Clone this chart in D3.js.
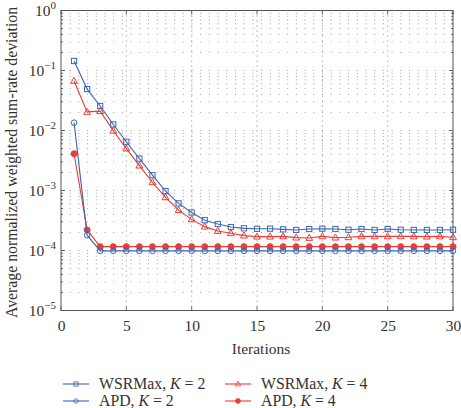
<!DOCTYPE html>
<html>
<head>
<meta charset="utf-8">
<script src="https://cdn.jsdelivr.net/npm/d3@7"></script>
<style>
body { margin: 0; background: #fff; }
text { font-family: "Liberation Serif", "DejaVu Serif", serif; fill: #333; }
</style>
</head>
<body>
<div id="chart"></div>
<script>
// iterations
var iterations = d3.range(1, 31);

// series values
var wsrK2 = [0.144, 0.049, 0.0256, 0.0126, 0.0065, 0.0034, 0.0018, 0.00098, 0.00061, 0.00043,
    0.00032, 0.000276, 0.000246, 0.000234, 0.00023, 0.000231, 0.000225, 0.00022, 0.000228, 0.000231,
    0.000228, 0.000222, 0.000228, 0.00022, 0.000228, 0.000222, 0.00022, 0.00022, 0.00022, 0.000222];
var wsrK4 = [0.067, 0.0204, 0.021, 0.0099, 0.005, 0.0026, 0.00137, 0.00077, 0.00047, 0.00033,
    0.00025, 0.000211, 0.000194, 0.000177, 0.00017, 0.00017, 0.000172, 0.000164, 0.000162, 0.000172,
    0.000164, 0.000166, 0.000172, 0.000172, 0.000172, 0.000172, 0.000172, 0.00017, 0.000172, 0.000166];
var apdK2 = [0.0135, 0.00018, 0.0000985, 0.0000985, 0.0000985, 0.0000985, 0.0000985, 0.0000985, 0.0000985, 0.0000985,
    0.0000985, 0.0000985, 0.0000985, 0.0000985, 0.0000985, 0.0000985, 0.0000985, 0.0000985, 0.0000985, 0.0000985,
    0.0000985, 0.0000985, 0.0000985, 0.0000985, 0.0000985, 0.0000985, 0.0000985, 0.0000985, 0.0000985, 0.0000985];
var apdK4 = [0.0041, 0.00022, 0.000116, 0.000116, 0.000116, 0.000116, 0.000116, 0.000116, 0.000116, 0.000116,
    0.000116, 0.000116, 0.000116, 0.000116, 0.000116, 0.000116, 0.000116, 0.000116, 0.000116, 0.000116,
    0.000116, 0.000116, 0.000116, 0.000116, 0.000116, 0.000116, 0.000116, 0.000116, 0.000116, 0.000116];

var xTicks = [0, 5, 10, 15, 20, 25, 30];
var yExps = [0, -1, -2, -3, -4, -5];

var blue = "#3b65b4", red = "#ee3b36";

var series = [
    {name: "WSRMax, ", k: "2", values: wsrK2, color: blue, marker: "square"},
    {name: "APD, ", k: "2", values: apdK2, color: blue, marker: "circle"},
    {name: "WSRMax, ", k: "4", values: wsrK4, color: red, marker: "triangle"},
    {name: "APD, ", k: "4", values: apdK4, color: red, marker: "dot"}
];

var width = 461, height = 408;
var plotLeft = 61, plotRight = 453, plotTop = 10.5, plotBottom = 310.5;

var svg = d3.select("#chart").append("svg")
    .attr("width", width)
    .attr("height", height);

var xScale = d3.scaleLinear().domain([0, 30]).range([plotLeft, plotRight]);
var yScale = d3.scaleLog().domain([1e-5, 1]).range([plotBottom, plotTop]);

// grid: horizontal dotted at every log tick, vertical dotted at x majors
var minorVals = [];
for (var e = -5; e < 0; e++) {
    for (var m = 1; m < 10; m++) minorVals.push(m * Math.pow(10, e));
}
minorVals.push(1);

svg.append("g").selectAll("line")
    .data(minorVals.filter(function(v) { return v > 1.01e-5 && v < 0.99; }))
    .enter().append("line")
    .attr("x1", plotLeft).attr("x2", plotRight)
    .attr("y1", function(d) { return yScale(d); })
    .attr("y2", function(d) { return yScale(d); })
    .attr("stroke", "#888")
    .attr("stroke-width", 0.8)
    .attr("stroke-dasharray", "1,7.7");

svg.append("g").selectAll("line")
    .data(xTicks.slice(1, -1))
    .enter().append("line")
    .attr("x1", function(d) { return xScale(d); })
    .attr("x2", function(d) { return xScale(d); })
    .attr("y1", plotTop).attr("y2", plotBottom)
    .attr("stroke", "#666")
    .attr("stroke-width", 0.8)
    .attr("stroke-dasharray", "1,4");

// axes
var xAxis = d3.axisBottom(xScale).tickValues(xTicks).tickSize(0).tickPadding(9).tickFormat(d3.format("d"));
var gx = svg.append("g")
    .attr("transform", "translate(0," + plotBottom + ")")
    .call(xAxis);
gx.select(".domain").remove();
gx.selectAll("text").style("font-size", "15.5px").attr("font-family", null);

// tick marks on inside of box
var tickG = svg.append("g").attr("stroke", "#444").attr("stroke-width", 0.8);
xTicks.forEach(function(t) {
    tickG.append("line").attr("x1", xScale(t)).attr("x2", xScale(t)).attr("y1", plotBottom).attr("y2", plotBottom - 4);
    tickG.append("line").attr("x1", xScale(t)).attr("x2", xScale(t)).attr("y1", plotTop).attr("y2", plotTop + 4);
});
minorVals.forEach(function(v) {
    var len = (Math.abs(Math.log10(v) - Math.round(Math.log10(v))) < 1e-9) ? 4 : 2;
    tickG.append("line").attr("x1", plotLeft).attr("x2", plotLeft + len).attr("y1", yScale(v)).attr("y2", yScale(v));
    tickG.append("line").attr("x1", plotRight).attr("x2", plotRight - len).attr("y1", yScale(v)).attr("y2", yScale(v));
});

// y tick labels 10^k
yExps.forEach(function(e) {
    var t = svg.append("text")
        .attr("x", plotLeft - 5)
        .attr("y", yScale(Math.pow(10, e)) + 5.5)
        .attr("text-anchor", "end")
        .style("font-size", "15.5px");
    t.append("tspan").text("10");
    t.append("tspan").attr("dy", -7).style("font-size", "11px").text(e === 0 ? "0" : "\u2212" + (-e));
});

// box
svg.append("rect")
    .attr("x", plotLeft).attr("y", plotTop)
    .attr("width", plotRight - plotLeft).attr("height", plotBottom - plotTop)
    .attr("fill", "none")
    .attr("stroke", "#555")
    .attr("stroke-width", 1);

// axis titles
svg.append("text")
    .attr("transform", "translate(17," + ((plotTop + plotBottom) / 2 + 2) + ") rotate(-90)")
    .attr("text-anchor", "middle")
    .style("font-size", "15.8px")
    .text("Average normalized weighted sum-rate deviation");

svg.append("text")
    .attr("x", (plotLeft + plotRight) / 2 + 4)
    .attr("y", 354)
    .attr("text-anchor", "middle")
    .style("font-size", "15.5px")
    .text("Iterations");

// markers
function drawMarker(g, type, color, cx, cy) {
    if (type === "square") {
        g.append("rect").attr("x", cx - 2.6).attr("y", cy - 2.6).attr("width", 5.2).attr("height", 5.2)
            .attr("fill", "none").attr("stroke", color).attr("stroke-width", 1);
    } else if (type === "circle") {
        g.append("circle").attr("cx", cx).attr("cy", cy).attr("r", 2.8)
            .attr("fill", "none").attr("stroke", color).attr("stroke-width", 1);
    } else if (type === "triangle") {
        g.append("path")
            .attr("d", "M" + cx + "," + (cy - 3.6) + "L" + (cx + 3.4) + "," + (cy + 2.4) + "L" + (cx - 3.4) + "," + (cy + 2.4) + "Z")
            .attr("fill", "none").attr("stroke", color).attr("stroke-width", 1);
    } else {
        g.append("circle").attr("cx", cx).attr("cy", cy).attr("r", 3)
            .attr("fill", color).attr("stroke", color);
    }
}

var line = d3.line()
    .x(function(d, i) { return xScale(iterations[i]); })
    .y(function(d) { return yScale(d); });

var drawOrder = [series[2], series[3], series[0], series[1]];
drawOrder.forEach(function(s) {
    var g = svg.append("g");
    g.append("path")
        .attr("d", line(s.values))
        .attr("fill", "none")
        .attr("stroke", s.color)
        .attr("stroke-width", 1.1);
    s.values.forEach(function(v, i) {
        drawMarker(g, s.marker, s.color, xScale(iterations[i]), yScale(v));
    });
});

// legend
var legendPos = [[63, 384], [63, 401], [225, 384], [225, 401]];
series.forEach(function(s, i) {
    var p = legendPos[i];
    var g = svg.append("g");
    g.append("line").attr("x1", p[0]).attr("x2", p[0] + 26).attr("y1", p[1]).attr("y2", p[1])
        .attr("stroke", s.color).attr("stroke-width", 1.1);
    var mg = g.append("g").attr("transform", "translate(" + (p[0] + 13) + "," + p[1] + ") scale(0.8)");
    drawMarker(mg, s.marker, s.color, 0, 0);
    var t = g.append("text").attr("x", p[0] + 36).attr("y", p[1] + 5).style("font-size", "15.8px");
    t.append("tspan").text(s.name);
    t.append("tspan").style("font-style", "italic").text("K");
    t.append("tspan").text(" = " + s.k);
});
</script>
</body>
</html>
